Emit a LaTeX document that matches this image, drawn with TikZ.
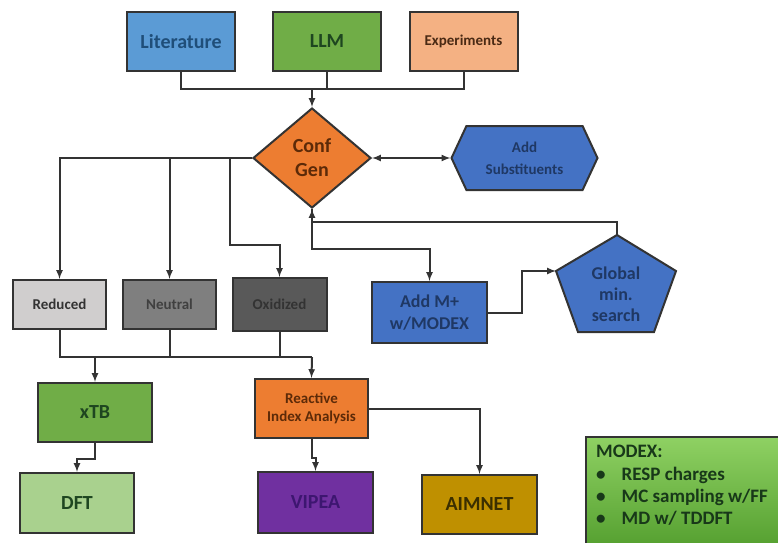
\documentclass[tikz,border=0pt]{standalone}
\usepackage{fontspec}
\setmainfont{Carlito}
\usepackage{xcolor}
\usepackage{tikz}
\usetikzlibrary{arrows,shapes.geometric,shapes.symbols}

\definecolor{edgegray}{HTML}{333333}
\definecolor{litblue}{HTML}{5B9BD5}
\definecolor{littext}{HTML}{1F4E79}
\definecolor{llmgreen}{HTML}{70AD47}
\definecolor{greentext}{HTML}{1E4620}
\definecolor{expsalmon}{HTML}{F4B183}
\definecolor{exptext}{HTML}{4A2A14}
\definecolor{genorange}{HTML}{ED7D31}
\definecolor{orangetext}{HTML}{5C2A08}
\definecolor{stepblue}{HTML}{4472C4}
\definecolor{bluetext}{HTML}{1F3864}
\definecolor{redgray}{HTML}{D0CECE}
\definecolor{neugray}{HTML}{7F7F7F}
\definecolor{oxgray}{HTML}{595959}
\definecolor{dftgreen}{HTML}{A9D18E}
\definecolor{vipurple}{HTML}{7030A0}
\definecolor{viptext}{HTML}{3D1670}
\definecolor{aimgold}{HTML}{BF9000}
\definecolor{aimtext}{HTML}{3B2F00}
\definecolor{modextop}{HTML}{8FD163}
\definecolor{modexbot}{HTML}{4E9A2A}

\begin{document}
\begin{tikzpicture}[x=1pt, y=-1pt, >=latex, node distance=110pt,
    box/.style={draw=edgegray, line width=2pt, rectangle, align=center,
        font=\bfseries, inner sep=2pt},
    link/.style={draw=edgegray, line width=2pt}]
        \useasboundingbox[fill=white] (0,0) rectangle (778,542);

        % sources
        \node[box, fill=litblue, text=littext, minimum width=108pt, minimum height=59pt,
            font=\bfseries\fontsize{20}{22}\selectfont] (lit) at (181,41.5) {Literature};
        \node[box, fill=llmgreen, text=greentext, minimum width=108pt, minimum height=59pt,
            font=\bfseries\fontsize{20}{22}\selectfont] (llm) at (327,41.5) {LLM};
        \node[box, fill=expsalmon, text=exptext, minimum width=108pt, minimum height=59pt,
            font=\bfseries\fontsize{15}{17}\selectfont] (exp) at (463.5,41.5) {Experiments};

        % conformer generation
        \node[box, diamond, fill=genorange, text=orangetext, minimum width=118pt,
            minimum height=100pt, inner sep=0pt,
            font=\bfseries\fontsize{20}{24}\selectfont] (conf) at (312,158) {Conf\\Gen};
        \node[box, signal, signal to=west and east, signal pointer angle=130,
            fill=stepblue, text=bluetext, minimum width=146pt, minimum height=64pt,
            font=\bfseries\fontsize{15}{22}\selectfont] (subst) at (524.5,158) {Add\\Substituents};

        % charge states
        \node[box, fill=redgray, text=black!80, minimum width=93pt, minimum height=49pt,
            font=\bfseries\fontsize{15}{17}\selectfont] (red) at (59.5,304.5) {Reduced};
        \node[box, fill=neugray, text=black!75, minimum width=93pt, minimum height=49pt,
            font=\bfseries\fontsize{15}{17}\selectfont, right of=red] (neu) {Neutral};
        \node[box, fill=oxgray, text=black!80, minimum width=94pt, minimum height=53pt,
            font=\bfseries\fontsize{15}{17}\selectfont, right of=neu] (ox) {Oxidized};

        % metal ion and global search
        \node[box, fill=stepblue, text=bluetext, minimum width=115pt, minimum height=61pt,
            font=\bfseries\fontsize{18}{22}\selectfont] (addm) at (429.5,312.5) {Add M+\\w/MODEX};
        \filldraw[link, fill=stepblue] (617,235) -- (676,271) -- (654,332) -- (578,332)
            -- (556,271) -- cycle;
        \node[align=center, text=bluetext, font=\bfseries\fontsize{18}{21}\selectfont]
            (glob) at (616,294) {Global\\min.\\search};
        \coordinate (globtop) at (617,235);
        \coordinate (globleft) at (556,271);

        % methods
        \node[box, fill=llmgreen, text=greentext, minimum width=114pt, minimum height=59pt,
            font=\bfseries\fontsize{20}{22}\selectfont] (xtb) at (95,412.5) {xTB};
        \node[box, fill=genorange, text=orangetext, minimum width=113pt, minimum height=59pt,
            font=\bfseries\fontsize{15}{18}\selectfont] (rea) at (311.5,408.5) {Reactive\\Index Analysis};
        \node[box, fill=dftgreen, text=greentext, minimum width=114pt, minimum height=60pt,
            font=\bfseries\fontsize{20}{22}\selectfont] (dft) at (77,503) {DFT};
        \node[box, fill=vipurple, text=viptext, minimum width=115pt, minimum height=61pt,
            font=\bfseries\fontsize{20}{22}\selectfont] (vip) at (315.5,502.5) {VIPEA};
        \node[box, fill=aimgold, text=aimtext, minimum width=115pt, minimum height=59pt,
            font=\bfseries\fontsize{20}{22}\selectfont] (aim) at (479.5,504.5) {AIMNET};

        % legend
        \shade[top color=modextop, bottom color=modexbot] (586,437) rectangle (800,560);
        \draw[link] (800,437) -- (586,437) -- (586,560);
        \node[anchor=north west, align=left, inner sep=0pt, text=greentext!80!black,
            font=\bfseries\fontsize{19}{22}\selectfont] (modex) at (596,445)
            {MODEX:\\[1pt]
             \textbullet\hspace{16pt}RESP charges\\
             \textbullet\hspace{16pt}MC sampling w/FF\\
             \textbullet\hspace{16pt}MD w/ TDDFT};

        % connectors
        \coordinate (topjoin) at (312,89);
        \coordinate (oxbend) at (230,245);
        \coordinate (midjoin) at (312,357);
        \draw[link] (lit.south) |- (topjoin) -| (exp.south);
        \draw[link] (llm.south) -- (llm.south |- topjoin);
        \draw[link, ->] (topjoin) -- (conf.north);
        \draw[link, <->] (conf.east) -- (subst.west);
        \draw[link, ->] (conf.west) -| (red.north);
        \draw[link, ->] (conf.west) -| (neu.north);
        \draw[link, ->] (conf.west) -| (oxbend) -| (ox.north);
        \draw[link, ->] (globtop) -- ++(0,-13) -| (conf.south);
        \draw[link, ->] (conf.south) -- ++(0,40) -| (addm.north);
        \draw[link, ->] (addm.east) -- ++(34,0) |- (globleft);
        \draw[link] (red.south) |- (midjoin);
        \draw[link] (neu.south) -- (neu.south |- midjoin);
        \draw[link] (ox.south) -- (ox.south |- midjoin);
        \draw[link, ->] (xtb.north |- midjoin) -- (xtb.north);
        \draw[link, ->] (midjoin) -- (rea.north);
        \draw[link, ->] (xtb.south) -- ++(0,16) -| (dft.north);
        \draw[link, ->] (rea.south) -- ++(0,19) -| (vip.north);
        \draw[link, ->] (rea.east) -| (aim.north);
    \end{tikzpicture}
\end{document}
